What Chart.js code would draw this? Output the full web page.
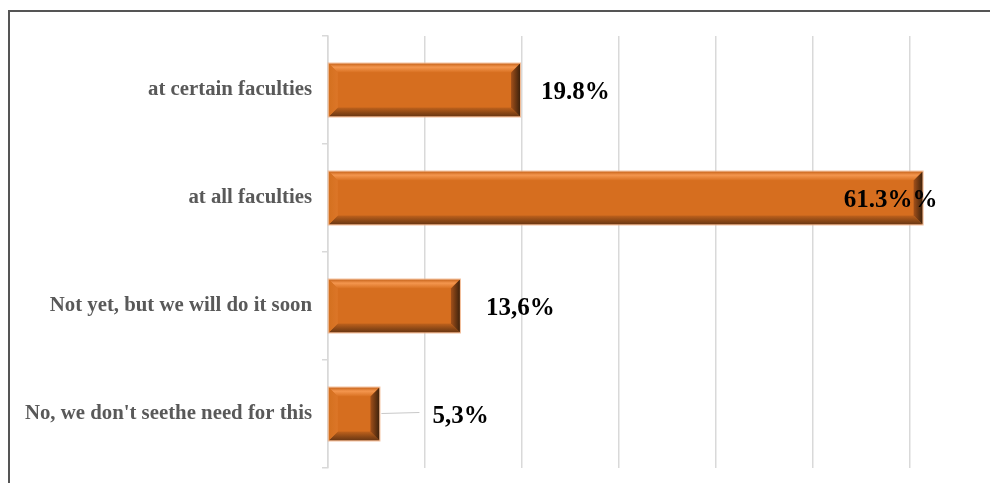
<!DOCTYPE html>
<html>
<head>
<meta charset="utf-8">
<script src="https://cdn.jsdelivr.net/npm/chart.js@4.4.1/dist/chart.umd.min.js"></script>
<style>
  html, body { margin:0; padding:0; background:#fff; overflow:hidden; width:990px; height:483px; }
  #wrap { position:absolute; left:0; top:0; width:1010px; height:483px; }
  #frame { position:absolute; left:8px; top:10px; width:1100px; height:600px;
           border-top:2px solid #555; border-left:2px solid #555; pointer-events:none; }
</style>
</head>
<body>
<div id="wrap"><canvas id="c" width="1010" height="483"></canvas></div>
<div id="frame"></div>
<script>
const categories = ["at certain faculties", "at all faculties", "Not yet, but we will do it soon", "No, we don't seethe need for this"];
const values = [19.8, 61.3, 13.6, 5.3];
const valueLabels = ["19.8%", "61.3%%", "13,6%", "5,3%"];
const axisMin = 0;
const axisMax = 70;
const axisStep = 10;

// label placement style (not data)
const labelStyle = [
  { dx: 21, align: 'left' },
  { dx: 15, align: 'right' },
  { dx: 26, align: 'left' },
  { dx: 53, align: 'left', leader: true }
];

const bevelPlugin = {
  id: 'bevel',
  afterDatasetsDraw(chart) {
    const ctx = chart.ctx;
    const meta = chart.getDatasetMeta(0);
    meta.data.forEach((el) => {
      const p = el.getProps(['x', 'y', 'base', 'height'], true);
      const l = Math.min(p.base, p.x), r = Math.max(p.base, p.x);
      const t = p.y - p.height / 2, bt = p.y + p.height / 2;
      const b = 9;
      ctx.save();
      ctx.fillStyle = '#D66E1F';
      ctx.fillRect(l, t, r - l, bt - t);
      let g = ctx.createLinearGradient(0, t, 0, t + b);
      g.addColorStop(0, '#C8651C'); g.addColorStop(0.4, '#F4964E'); g.addColorStop(1, '#D87020');
      ctx.fillStyle = g;
      ctx.beginPath(); ctx.moveTo(l, t); ctx.lineTo(r, t); ctx.lineTo(r - b, t + b); ctx.lineTo(l + b, t + b); ctx.closePath(); ctx.fill();
      g = ctx.createLinearGradient(0, bt - b, 0, bt);
      g.addColorStop(0, '#C0621C'); g.addColorStop(0.6, '#8A4716'); g.addColorStop(1, '#6A3612');
      ctx.fillStyle = g;
      ctx.beginPath(); ctx.moveTo(l, bt); ctx.lineTo(r, bt); ctx.lineTo(r - b, bt - b); ctx.lineTo(l + b, bt - b); ctx.closePath(); ctx.fill();
      g = ctx.createLinearGradient(l, 0, l + b, 0);
      g.addColorStop(0, '#D4701F'); g.addColorStop(1, '#DC7628');
      ctx.fillStyle = g;
      ctx.beginPath(); ctx.moveTo(l, t); ctx.lineTo(l + b, t + b); ctx.lineTo(l + b, bt - b); ctx.lineTo(l, bt); ctx.closePath(); ctx.fill();
      g = ctx.createLinearGradient(r - b, 0, r, 0);
      g.addColorStop(0, '#A2501A'); g.addColorStop(1, '#3E220C');
      ctx.fillStyle = g;
      ctx.beginPath(); ctx.moveTo(r, t); ctx.lineTo(r - b, t + b); ctx.lineTo(r - b, bt - b); ctx.lineTo(r, bt); ctx.closePath(); ctx.fill();
      ctx.strokeStyle = 'rgba(241,180,138,0.9)';
      ctx.lineWidth = 1;
      ctx.strokeRect(l - 0.5, t - 0.5, r - l + 1, bt - t + 1);
      ctx.restore();
    });
  },
  afterDraw(chart) {
    const ctx = chart.ctx;
    const meta = chart.getDatasetMeta(0);
    ctx.save();
    ctx.font = "bold 25px 'Liberation Serif', 'Times New Roman', serif";
    ctx.fillStyle = '#000';
    ctx.textBaseline = 'middle';
    meta.data.forEach((el, i) => {
      const p = el.getProps(['x', 'y'], true);
      const s = labelStyle[i];
      ctx.textAlign = s.align;
      const tx = p.x + s.dx;
      if (s.leader) {
        ctx.strokeStyle = '#c8c8c8';
        ctx.lineWidth = 1;
        ctx.beginPath();
        ctx.moveTo(p.x + 2, p.y - 0.5);
        ctx.lineTo(tx - 13, p.y - 1.5);
        ctx.stroke();
      }
      ctx.fillText(valueLabels[i], tx, p.y + 3);
    });
    ctx.restore();
  }
};

new Chart(document.getElementById('c'), {
  type: 'bar',
  data: {
    labels: categories,
    datasets: [{
      data: values,
      backgroundColor: 'rgba(0,0,0,0)',
      borderWidth: 0,
      categoryPercentage: 1,
      barPercentage: 0.49
    }]
  },
  options: {
    indexAxis: 'y',
    responsive: false,
    animation: false,
    events: [],
    layout: { padding: { top: 36, bottom: 15, left: 0, right: 3 } },
    plugins: { legend: { display: false }, tooltip: { enabled: false }, title: { display: false } },
    scales: {
      x: {
        min: axisMin, max: axisMax,
        ticks: { display: false, stepSize: axisStep },
        grid: { color: '#d9d9d9', lineWidth: 1.5, drawTicks: false },
        border: { display: false },
        afterFit(scale) { scale.height = 0; scale.paddingLeft = 0; scale.paddingRight = 0; }
      },
      y: {
        ticks: {
          color: '#595959',
          padding: 10,
          font: { family: "'Liberation Serif', 'Times New Roman', serif", weight: 'bold', size: 20.8 }
        },
        grid: { drawOnChartArea: false, drawTicks: true, tickLength: 6, color: '#d9d9d9', lineWidth: 1.5 },
        border: { display: true, color: '#d9d9d9', width: 1.5 },
        afterFit(scale) { scale.width = 328; scale.paddingTop = 0; scale.paddingBottom = 0; }
      }
    }
  },
  plugins: [bevelPlugin]
});
</script>
</body>
</html>
